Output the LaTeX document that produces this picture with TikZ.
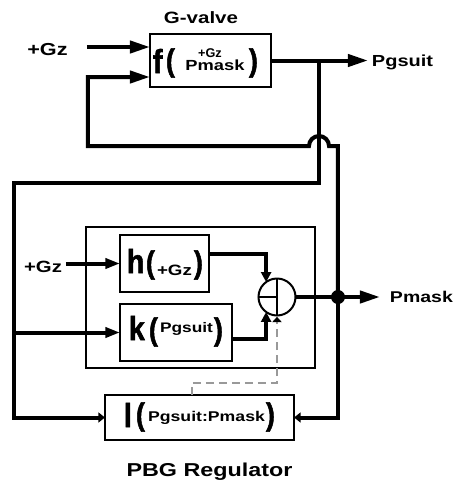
\documentclass[tikz,border=0pt]{standalone}
\usepackage{fontspec}
\setmainfont{Liberation Sans}[FakeStretch=1.25]
\newfontfamily\nfont{Liberation Sans}[FakeStretch=0.85,BoldFeatures={FakeBold=1.6}]
\newfontfamily\rfont{Liberation Sans}
\usetikzlibrary{arrows.meta}
\newcommand\sz[1]{\fontsize{#1}{#1}\selectfont\bfseries}
\begin{document}
\begin{tikzpicture}[x=0.75pt,y=-0.75pt,
  box/.style={draw,line width=1.5pt,inner sep=0,outer sep=0},
  txt/.style={inner sep=0,outer sep=0,anchor=base west},
  ctxt/.style={inner sep=0,outer sep=0,anchor=base},
  big/.style={txt,font=\nfont\sz{25pt}},
  par/.style={txt,font=\nfont\sz{23.5pt}},
  sig/.style={line width=3pt},
  bigtip/.style={-{Triangle[length=15pt,width=9pt]}},
  midtip/.style={-{Triangle[length=11pt,width=7.5pt]}},
  sumtip/.style={-{Triangle[length=7.5pt,width=7.5pt]}},
  smalltip/.style={-{Triangle[length=5pt,width=7.5pt]}},
  dashline/.style={line width=1.1pt,draw=black!40,dash pattern=on 6pt off 3.75pt,
    -{Triangle[length=4pt,width=7pt,black]}}
]
\useasboundingbox (0,0) rectangle (459,480);

% boxes
\node[box,minimum width=90.75pt,minimum height=40pt] (gv) at (210.5,60.5) {};
\node[draw,line width=1.1pt,inner sep=0,outer sep=0,minimum width=171.75pt,minimum height=105.75pt] (reg) at (200.5,297.5) {};
\node[box,minimum width=66.75pt,minimum height=42.75pt] (h) at (164.5,263.5) {};
\node[box,minimum width=84pt,minimum height=42.75pt] (k) at (176,332.5) {};
\node[box,minimum width=141.75pt,minimum height=33.75pt] (l) at (199.5,417.5) {};
\node[draw,circle,line width=1.5pt,inner sep=0,outer sep=0,minimum size=27.75pt] (sum) at (277,297) {};
\draw[line width=1.5pt] (sum.north) -- (sum.south);
\draw[line width=1.5pt] (sum.west) -- (sum.center);
\node[circle,fill,inner sep=0,minimum size=10.5pt] (dot) at (338,297) {};

% coordinates
\coordinate (gzin) at (87,47);
\coordinate (pgout) at (368,60.5);
\coordinate (tap) at (319,60.5);
\coordinate (leftTop) at (14,183);
\coordinate (kbr) at (14,332.5);
\coordinate (gz2) at (66,263.5);
\coordinate (pmout) at (380,297);
\coordinate (fbTop) at (338,146);
\coordinate (hopR) at (329,146);
\coordinate (fbL) at (88,146);
\coordinate (fbIn) at (88,77);
\coordinate (dashStart) at (192,395);
\coordinate (dashC) at (277,383);

% connectors
\draw[sig,bigtip] (gzin) -- (gzin -| gv.west);
\draw[sig,bigtip] (gv.east) -- (pgout);
\draw[sig,smalltip] (tap) |- (leftTop) |- (l.west);
\draw[sig,midtip] (kbr) -- (k.west);
\draw[sig,midtip] (gz2) -- (h.west);
\draw[sig,sumtip] ([yshift=7pt]h.east) -| (sum.126);
\draw[sig,sumtip] ([yshift=-4.9pt]k.east) -| (sum.234);
\draw[sig] (sum.east) -- (dot.center);
\draw[sig,bigtip] (dot.center) -- (pmout);
\draw[sig,bigtip] (dot.center) -- (fbTop) -- (hopR) arc[start angle=0,end angle=180,radius=7.5pt] -- (fbL) -- (fbIn) -- (fbIn -| gv.west);
\draw[sig,smalltip] (dot.center) |- (l.east);
\draw[dashline,shorten >=1pt] (dashStart) |- (dashC) -- (sum.south);

% labels
\node[ctxt,font=\sz{12.3pt}] (tgv) at (201,23) {G-valve};
\node[ctxt,font=\sz{13pt}] (tgz) at (47.5,55) {+Gz};
\node[txt,font=\sz{12pt}] (tpg) at (372,66) {Pgsuit};
\node[txt,font=\sz{11.7pt}] (tpm) at (390,302) {Pmask};
\node[ctxt,font=\sz{14pt}] (tpbg) at (209.5,476) {PBG Regulator};
\node[ctxt,font=\sz{12.2pt}] (tgz2) at (43,272) {+Gz};

% G-valve contents
\node[big] (gf) at (153,73) {f};
\node[par] (gp1) at (166,71) {(};
\node[ctxt,font=\rfont\sz{9.5pt}] (ggz) at (210,57.5) {+Gz};
\node[ctxt,font=\sz{11pt}] (gpm) at (215,70.5) {Pmask};
\node[par] (gp2) at (249,71) {)};

% h contents
\node[big] (hh) at (127,273) {h};
\node[par] (hp1) at (146,273) {(};
\node[ctxt,font=\sz{11.25pt}] (hgz) at (174.5,275) {+Gz};
\node[par] (hp2) at (194,273) {)};

% k contents
\node[big] (kk) at (129,340) {k};
\node[par] (kp1) at (149,340) {(};
\node[ctxt,font=\sz{10.4pt}] (kpg) at (186.5,332) {Pgsuit};
\node[par] (kp2) at (214,340) {)};

% l contents
\node[big] (ll) at (124,427) {l};
\node[par] (lp1) at (136,425) {(};
\node[ctxt,font=\sz{10.6pt}] (lpg) at (206.5,421) {Pgsuit:Pmask};
\node[par] (lp2) at (266,425) {)};
\end{tikzpicture}
\end{document}
